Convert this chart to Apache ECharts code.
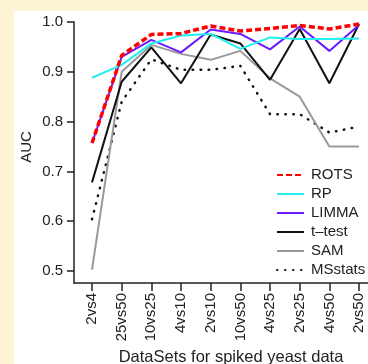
<!DOCTYPE html>
<html>
<head>
<meta charset="utf-8">
<script src="https://cdn.jsdelivr.net/npm/echarts@6/dist/echarts.min.js"></script>
<style>
  html, body { margin: 0; padding: 0; background: #fdf3d5; }
  #chart { position: absolute; left: 14px; top: 11px; width: 354px; height: 353px; background: #fff; }
</style>
</head>
<body>
<div id="chart"></div>
<script>
const categories = ['2vs4', '25vs50', '10vs25', '4vs10', '2vs10', '10vs50', '4vs25', '2vs25', '4vs50', '2vs50']
const yTicks = [0.5, 0.6, 0.7, 0.8, 0.9, 1.0]

const rots = [0.757, 0.933, 0.975, 0.977, 0.992, 0.982, 0.987, 0.993, 0.986, 0.996]
const rp = [0.888, 0.914, 0.957, 0.973, 0.976, 0.946, 0.969, 0.966, 0.966, 0.967]
const limma = [0.757, 0.930, 0.964, 0.939, 0.985, 0.976, 0.945, 0.991, 0.942, 0.994]
const ttest = [0.678, 0.880, 0.949, 0.877, 0.975, 0.957, 0.884, 0.986, 0.877, 0.996]
const sam = [0.503, 0.900, 0.954, 0.936, 0.924, 0.942, 0.887, 0.850, 0.750, 0.750]
const msstats = [0.604, 0.840, 0.925, 0.904, 0.904, 0.912, 0.815, 0.815, 0.778, 0.790]

const font = 'Liberation Sans, Arial, Helvetica, sans-serif'
const xPos = categories.map((c, i) => i + 1)
const pairs = (vals) => vals.map((v, i) => [i + 1, v])

const line = (name, vals, color, width, type, cap) => ({
  name,
  type: 'line',
  data: pairs(vals),
  symbol: 'none',
  silent: true,
  animation: false,
  lineStyle: { color, width, type, cap: cap || 'butt' },
  itemStyle: { color },
})

const myChart = echarts.init(document.getElementById('chart'))
myChart.setOption({
  backgroundColor: '#fff',
  textStyle: { fontFamily: font },
  grid: { left: 60, top: 11, right: 0, bottom: 81 },
  xAxis: {
    type: 'value',
    min: 0.393,
    max: 10.302,
    splitLine: { show: false },
    axisLine: { lineStyle: { color: '#222', width: 1.5 } },
    axisTick: { customValues: xPos, length: 8, lineStyle: { color: '#222', width: 1.5 } },
    axisLabel: {
      customValues: xPos,
      rotate: 90,
      margin: 10,
      fontSize: 15,
      color: '#222',
      fontFamily: font,
      formatter: (v) => categories[Math.round(v) - 1],
    },
  },
  yAxis: {
    type: 'value',
    min: 0.476,
    max: 1.0,
    splitLine: { show: false },
    axisLine: { show: true, lineStyle: { color: '#222', width: 1.5 } },
    axisTick: { show: true, customValues: yTicks, length: 7, lineStyle: { color: '#222', width: 1.5 } },
    axisLabel: {
      customValues: yTicks,
      margin: 11,
      fontSize: 15,
      color: '#222',
      fontFamily: font,
      formatter: (v) => v.toFixed(1),
    },
  },
  legend: {
    orient: 'vertical',
    left: 262,
    top: 156.5,
    padding: 0,
    itemWidth: 27,
    itemHeight: 14,
    itemGap: 4,
    selectedMode: false,
    itemStyle: { opacity: 0 },
    data: ['ROTS', 'RP', 'LIMMA', 't\u2013test', 'SAM', 'MSstats'],
    textStyle: { fontSize: 15, color: '#222', fontFamily: font, padding: [0, 0, 0, 2] },
  },
  graphic: [
    {
      type: 'text',
      x: 217,
      y: 346,
      style: { text: 'DataSets for spiked yeast data', font: '16.5px ' + font, fill: '#222', textAlign: 'center', textVerticalAlign: 'middle' },
    },
    {
      type: 'text',
      x: 13,
      y: 136,
      rotation: Math.PI / 2,
      style: { text: 'AUC', font: '15px ' + font, fill: '#222', textAlign: 'center', textVerticalAlign: 'middle' },
    },
  ],
  series: [
    line('MSstats', msstats, '#111', 2.5, [0.5, 7.5], 'round'),
    line('SAM', sam, '#999', 2),
    line('t\u2013test', ttest, '#111', 2),
    line('LIMMA', limma, '#6a1aff', 2),
    line('RP', rp, '#22f0f0', 2),
    line('ROTS', rots, '#ff0000', 3.5, [6, 3]),
  ],
})
</script>
</body>
</html>
